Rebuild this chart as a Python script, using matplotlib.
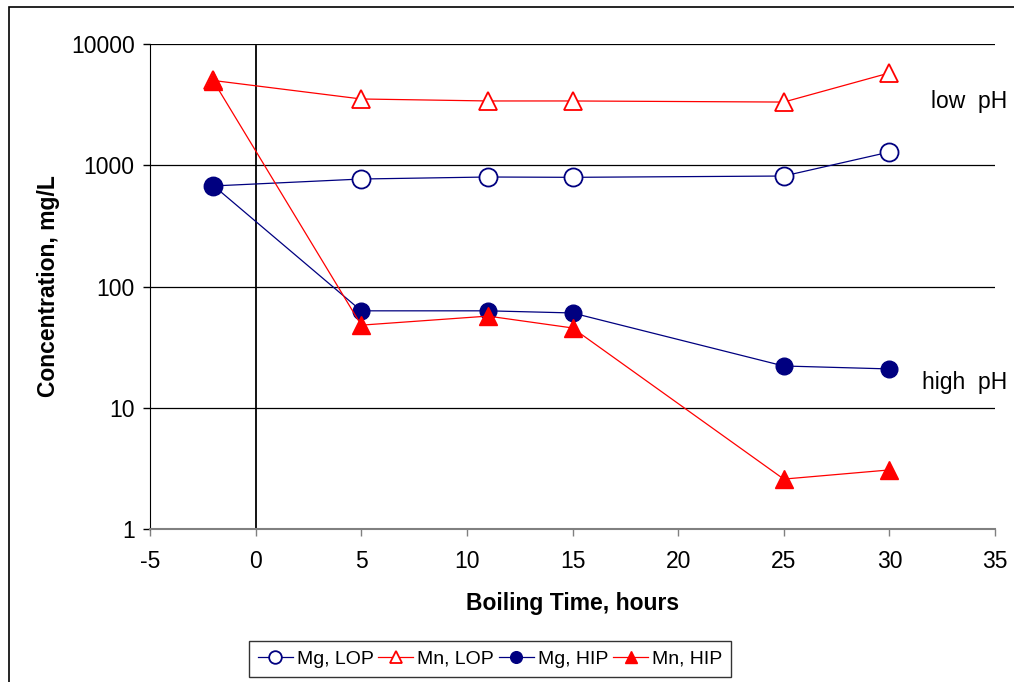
import numpy as np
import matplotlib.pyplot as plt
from matplotlib.patches import Rectangle

plt.rcParams['font.family'] = ['Liberation Sans', 'DejaVu Sans']
plt.rcParams['axes.unicode_minus'] = False

hours = [-2, 5, 11, 15, 25, 30]
mg_lop = [675, 770, 800, 795, 815, 1285]
mn_lop = [5000, 3520, 3390, 3390, 3320, 5770]
mg_hip = [680, 63, 63, 60.5, 22.1, 20.9]
mn_hip = [4950, 48, 57, 45.5, 2.58, 3.07]

navy = '#000080'
red = '#ff0000'

fig = plt.figure(figsize=(10.14, 6.82), dpi=100)
ax = fig.add_axes([150 / 1014, 1 - 529 / 682, 845 / 1014, 485 / 682])

# outer frame of the chart area
fig.patches.append(Rectangle((9 / 1014, -0.05), 1.1, 1 - 7 / 682 + 0.05,
                             transform=fig.transFigure, fill=False,
                             edgecolor='black', linewidth=1.2))

ax.set_yscale('log')
ax.set_xlim(-5, 35)
ax.set_ylim(1, 10000)

for v in [10, 100, 1000, 10000]:
    ax.axhline(v, color='black', linewidth=0.9, zorder=1)
ax.axvline(0, ymax=0.995, color='black', linewidth=1.3, zorder=1)

ax.plot(hours, mg_lop, color=navy, linewidth=0.9, marker='o', markersize=13,
        markerfacecolor='white', markeredgecolor=navy, markeredgewidth=1.3,
        label='Mg, LOP', zorder=3)
ax.plot(hours, mn_lop, color=red, linewidth=0.9, marker='^', markersize=13,
        markerfacecolor='white', markeredgecolor=red, markeredgewidth=1.3,
        label='Mn, LOP', zorder=3)
ax.plot(hours, mg_hip, color=navy, linewidth=0.9, marker='o', markersize=12,
        markerfacecolor=navy, markeredgecolor=navy,
        label='Mg, HIP', zorder=4)
ax.plot(hours, mn_hip, color=red, linewidth=0.9, marker='^', markersize=13,
        markerfacecolor=red, markeredgecolor=red,
        label='Mn, HIP', zorder=4)

ax.set_xticks(np.arange(-5, 36, 5))
ax.set_yticks([1, 10, 100, 1000, 10000])
ax.set_yticklabels(['1', '10', '100', '1000', '10000'])
ax.minorticks_off()
ax.tick_params(axis='both', labelsize=16.5, direction='out', length=5, width=1)
ax.tick_params(axis='x', colors='#808080', labelcolor='black', pad=10)
ax.tick_params(axis='y', colors='black', pad=6)

ax.spines['top'].set_visible(False)
ax.spines['right'].set_visible(False)
ax.spines['bottom'].set_color('#808080')
ax.spines['bottom'].set_linewidth(1.5)
ax.spines['left'].set_color('black')

ax.set_xlabel('Boiling Time, hours', fontsize=16.5, fontweight='bold', labelpad=14)
ax.set_ylabel('Concentration, mg/L', fontsize=16.5, fontweight='bold', labelpad=8)

ax.text(35.6, 3326, 'low  pH', fontsize=16.5, ha='right', va='center', clip_on=False)
ax.text(35.6, 16.3, 'high  pH', fontsize=16.5, ha='right', va='center', clip_on=False)

leg = ax.legend(loc='center', bbox_to_anchor=(490 / 1014, 1 - 659 / 682),
                bbox_transform=fig.transFigure, ncol=4, fontsize=14,
                frameon=True, fancybox=False, edgecolor='black',
                handlelength=1.8, handletextpad=0.2, columnspacing=0.25,
                borderpad=0.45, borderaxespad=0, markerscale=0.7)
leg.get_frame().set_linewidth(1.0)

fig.savefig('out.png', dpi=100)
